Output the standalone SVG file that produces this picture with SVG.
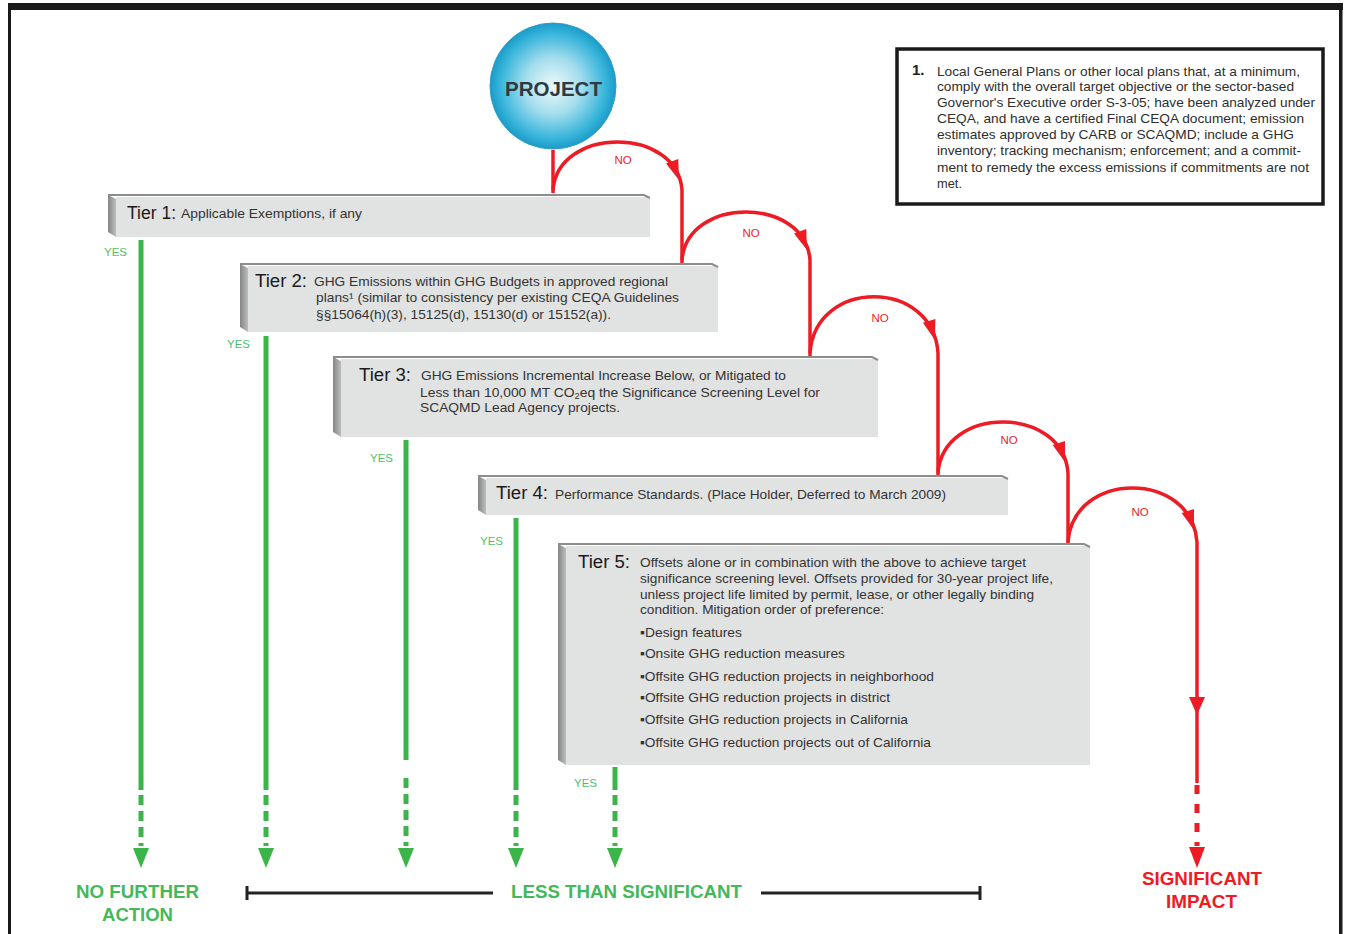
<svg xmlns="http://www.w3.org/2000/svg" width="1346" height="934" viewBox="0 0 1346 934">
<defs>
<radialGradient id="gp" cx="50%" cy="50%" r="50%">
<stop offset="0" stop-color="#eefafc"/>
<stop offset="0.45" stop-color="#a3dded"/>
<stop offset="0.85" stop-color="#34b3da"/>
<stop offset="1" stop-color="#1b9bc7"/>
</radialGradient>
<linearGradient id="gbev" x1="0" x2="1" y1="0" y2="0">
<stop offset="0" stop-color="#858585"/>
<stop offset="1" stop-color="#bdbdbd"/>
</linearGradient>
<path id="rh" d="M0,0 L-6.5,-20 L6.5,-20 Z" fill="#ed1c24"/>
</defs>
<style>
.face{fill:#e1e2e2}
.bev{fill:url(#gbev)}
.top{fill:none;stroke:#8d8d8d;stroke-width:2}
.tl{font-family:"Liberation Sans",Arial,sans-serif;font-size:18px;fill:#1a1a1a}
.bt{font-family:"Liberation Sans",Arial,sans-serif;font-size:13.5px;fill:#333}
.fn{font-family:"Liberation Sans",Arial,sans-serif;font-size:13px;fill:#2e2e2e}
.yes{font-family:"Liberation Sans",Arial,sans-serif;font-size:11.5px;fill:#4fbf6a}
.no{font-family:"Liberation Sans",Arial,sans-serif;font-size:11.5px;fill:#ed1c24;text-anchor:middle}
.gl{stroke:#3bb54a;stroke-width:5;fill:none}
.gd{stroke:#3bb54a;stroke-width:5;fill:none;stroke-dasharray:10 6}
.ga{fill:#3bb54a}
.rl{stroke:#ed1c24;stroke-width:3.5;fill:none}
.rd{stroke:#ed1c24;stroke-width:5;fill:none;stroke-dasharray:9 10}
.ra{fill:#ed1c24}
.big{font-family:"Liberation Sans",Arial,sans-serif;font-weight:bold;font-size:18px}
.bk{stroke:#222;stroke-width:3;fill:none}
</style>

<g id="frame">
<rect x="8" y="3" width="1335" height="7" fill="#1a1a1a"/>
<rect x="8" y="3" width="3" height="931" fill="#1a1a1a"/>
<rect x="1339" y="3" width="3.5" height="931" fill="#1a1a1a"/>
</g>

<g id="project">
<circle cx="553" cy="86" r="63" fill="url(#gp)" stroke="#2a9fc7" stroke-width="1"/>
<text x="505" y="96" class="big" fill="#2d3a40" textLength="97" lengthAdjust="spacingAndGlyphs" style="font-size:21px">PROJECT</text>
</g>

<g id="footnote">
<rect x="897" y="49" width="426" height="155" fill="#fff" stroke="#1a1a1a" stroke-width="3.5"/>
<text x="912" y="75" font-family="Liberation Sans, Arial, sans-serif" font-weight="bold" font-size="15" fill="#222">1.</text>
<text class="fn" x="937" y="76" textLength="363" lengthAdjust="spacingAndGlyphs">Local General Plans or other local plans that, at a minimum,</text>
<text class="fn" x="937" y="91" textLength="357" lengthAdjust="spacingAndGlyphs">comply with the overall target objective or the sector-based</text>
<text class="fn" x="937" y="107" textLength="378" lengthAdjust="spacingAndGlyphs">Governor's Executive order S-3-05; have been analyzed under</text>
<text class="fn" x="937" y="123" textLength="367" lengthAdjust="spacingAndGlyphs">CEQA, and have a certified Final CEQA document; emission</text>
<text class="fn" x="937" y="139" textLength="357" lengthAdjust="spacingAndGlyphs">estimates approved by CARB or SCAQMD; include a GHG</text>
<text class="fn" x="937" y="155" textLength="364" lengthAdjust="spacingAndGlyphs">inventory; tracking mechanism; enforcement; and a commit-</text>
<text class="fn" x="937" y="172" textLength="372" lengthAdjust="spacingAndGlyphs">ment to remedy the excess emissions if commitments are not</text>
<text class="fn" x="937" y="188" textLength="25" lengthAdjust="spacingAndGlyphs">met.</text>
</g>

<g id="tier1">
<rect class="face" x="116" y="197" width="534" height="40"/>
<polygon class="bev" points="108,195 116,199 116,237 108,232"/>
<path class="top" d="M108,195 L644,195 L650,198"/>
<text class="tl" x="127" y="219" textLength="49" lengthAdjust="spacingAndGlyphs">Tier 1:</text>
<text class="bt" x="181" y="218" textLength="181" lengthAdjust="spacingAndGlyphs">Applicable Exemptions, if any</text>
</g>

<g id="tier2">
<rect class="face" x="248" y="266" width="470" height="66"/>
<polygon class="bev" points="240,264 248,268 248,332 240,327"/>
<path class="top" d="M240,264 L712,264 L718,267"/>
<text class="tl" x="255" y="287" textLength="52" lengthAdjust="spacingAndGlyphs">Tier 2:</text>
<text class="bt" x="314" y="286" textLength="354" lengthAdjust="spacingAndGlyphs">GHG Emissions within GHG Budgets in approved regional</text>
<text class="bt" x="316" y="302" textLength="363" lengthAdjust="spacingAndGlyphs">plans¹ (similar to consistency per existing CEQA Guidelines</text>
<text class="bt" x="316" y="319" textLength="295" lengthAdjust="spacingAndGlyphs">§§15064(h)(3), 15125(d), 15130(d) or 15152(a)).</text>
</g>

<g id="tier3">
<rect class="face" x="341" y="359" width="537" height="78"/>
<polygon class="bev" points="333,357 341,361 341,437 333,432"/>
<path class="top" d="M333,357 L872,357 L878,360"/>
<text class="tl" x="359" y="381" textLength="52" lengthAdjust="spacingAndGlyphs">Tier 3:</text>
<text class="bt" x="421" y="380" textLength="365" lengthAdjust="spacingAndGlyphs">GHG Emissions Incremental Increase Below, or Mitigated to</text>
<text class="bt" x="420" y="397" textLength="400" lengthAdjust="spacingAndGlyphs">Less than 10,000 MT CO<tspan font-size="9" dy="2">2</tspan><tspan dy="-2">eq the Significance Screening Level  for</tspan></text>
<text class="bt" x="420" y="412" textLength="200" lengthAdjust="spacingAndGlyphs">SCAQMD  Lead Agency projects.</text>
</g>

<g id="tier4">
<rect class="face" x="486" y="478" width="522" height="37"/>
<polygon class="bev" points="478,476 486,480 486,515 478,510"/>
<path class="top" d="M478,476 L1002,476 L1008,479"/>
<text class="tl" x="496" y="499" textLength="52" lengthAdjust="spacingAndGlyphs">Tier 4:</text>
<text class="bt" x="555" y="499" textLength="391" lengthAdjust="spacingAndGlyphs">Performance Standards. (Place Holder, Deferred to March 2009)</text>
</g>

<g id="tier5">
<rect class="face" x="566" y="546" width="524" height="219"/>
<polygon class="bev" points="558,544 566,548 566,765 558,760"/>
<path class="top" d="M558,544 L1084,544 L1090,547"/>
<text class="tl" x="578" y="568" textLength="52" lengthAdjust="spacingAndGlyphs">Tier 5:</text>
<text class="bt" x="640" y="567" textLength="386" lengthAdjust="spacingAndGlyphs">Offsets alone or in combination with the above to achieve target</text>
<text class="bt" x="640" y="583" textLength="413" lengthAdjust="spacingAndGlyphs">significance screening level. Offsets provided for 30-year project life,</text>
<text class="bt" x="640" y="599" textLength="394" lengthAdjust="spacingAndGlyphs">unless project life limited by permit, lease, or other legally binding</text>
<text class="bt" x="640" y="614" textLength="244" lengthAdjust="spacingAndGlyphs">condition. Mitigation order of preference:</text>
<text class="bt" x="640" y="637" textLength="102" lengthAdjust="spacingAndGlyphs">▪Design features</text>
<text class="bt" x="640" y="658" textLength="205" lengthAdjust="spacingAndGlyphs">▪Onsite GHG reduction measures</text>
<text class="bt" x="640" y="681" textLength="294" lengthAdjust="spacingAndGlyphs">▪Offsite GHG reduction projects in neighborhood</text>
<text class="bt" x="640" y="702" textLength="250" lengthAdjust="spacingAndGlyphs">▪Offsite GHG reduction projects in district</text>
<text class="bt" x="640" y="724" textLength="268" lengthAdjust="spacingAndGlyphs">▪Offsite GHG reduction projects in California</text>
<text class="bt" x="640" y="747" textLength="291" lengthAdjust="spacingAndGlyphs">▪Offsite GHG reduction projects out of California</text>
</g>

<g id="connectors">
<path class="rl" d="M553,150 L553,193"/>
<path class="rl" d="M553,190 C558,126 677,126 682,190 L682,263"/>
<use href="#rh" transform="translate(679,180) rotate(-20)"/>
<path class="rl" d="M682,260 C687,196 805,196 810,260 L810,356"/>
<use href="#rh" transform="translate(807,250) rotate(-20)"/>
<path class="rl" d="M810,353 C815,278 933,278 938,353 L938,475"/>
<use href="#rh" transform="translate(935,340) rotate(-17)"/>
<path class="rl" d="M938,473 C943,405 1063,405 1068,473 L1068,543"/>
<use href="#rh" transform="translate(1065,462) rotate(-18)"/>
<path class="rl" d="M1068,542 C1073,470 1192,470 1197,542 L1197,783"/>
<use href="#rh" transform="translate(1194,530) rotate(-18)"/>
<polygon class="ra" points="1189,697 1205,697 1197,715"/>
<path class="rd" d="M1197,785 L1197,846"/>
<polygon class="ra" points="1189,847 1205,847 1197,868"/>
<path class="gl" d="M141,240 L141,790"/>
<path class="gd" d="M141,795 L141,846"/>
<polygon class="ga" points="133,848 149,848 141,868"/>
<path class="gl" d="M266,336 L266,790"/>
<path class="gd" d="M266,795 L266,846"/>
<polygon class="ga" points="258,848 274,848 266,868"/>
<path class="gl" d="M406,440 L406,760"/>
<path class="gd" d="M406,778 L406,846"/>
<polygon class="ga" points="398,848 414,848 406,868"/>
<path class="gl" d="M516,518 L516,790"/>
<path class="gd" d="M516,795 L516,846"/>
<polygon class="ga" points="508,848 524,848 516,868"/>
<path class="gl" d="M615,767 L615,790"/>
<path class="gd" d="M615,795 L615,846"/>
<polygon class="ga" points="607,848 623,848 615,868"/>
<path class="bk" d="M247,893 L493,893 M247,886 L247,900"/>
<path class="bk" d="M761,893 L980,893 M980,886 L980,900"/>
</g>

<g id="labels">
<text class="no" x="623" y="164">NO</text>
<text class="no" x="751" y="237">NO</text>
<text class="no" x="880" y="322">NO</text>
<text class="no" x="1009" y="444">NO</text>
<text class="no" x="1140" y="516">NO</text>
<text class="yes" x="104" y="256">YES</text>
<text class="yes" x="227" y="348">YES</text>
<text class="yes" x="370" y="462">YES</text>
<text class="yes" x="480" y="545">YES</text>
<text class="yes" x="574" y="787">YES</text>
<text class="big" x="76" y="898" fill="#43b95a" textLength="123" lengthAdjust="spacingAndGlyphs">NO FURTHER</text>
<text class="big" x="102" y="921" fill="#43b95a" textLength="71" lengthAdjust="spacingAndGlyphs">ACTION</text>
<text class="big" x="511" y="898" fill="#43b95a" textLength="231" lengthAdjust="spacingAndGlyphs">LESS THAN SIGNIFICANT</text>
<text class="big" x="1142" y="885" fill="#ed1c24" textLength="120" lengthAdjust="spacingAndGlyphs">SIGNIFICANT</text>
<text class="big" x="1166" y="908" fill="#ed1c24" textLength="71" lengthAdjust="spacingAndGlyphs">IMPACT</text>
</g>
</svg>
